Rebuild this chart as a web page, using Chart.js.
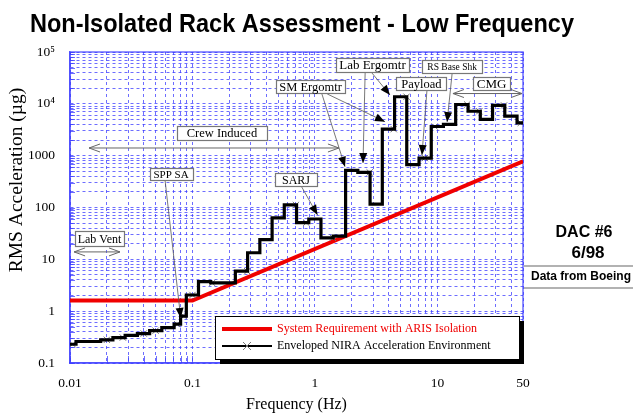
<!DOCTYPE html>
<html>
<head>
<meta charset="utf-8">
<title>Non-Isolated Rack Assessment - Low Frequency</title>
<script src="https://cdn.jsdelivr.net/npm/chart.js@4.4.0/dist/chart.umd.min.js"></script>
<style>
  html, body { margin: 0; padding: 0; background: #fff; }
  #wrap { width: 633px; height: 414px; }
</style>
</head>
<body>
<div id="wrap"><canvas id="rack" width="633" height="414"></canvas></div>
<script>
// 1/3-octave band lower edges (Hz) and enveloped NIRA levels (micro-g)
const bandHz = [0.01, 0.0112, 0.0141, 0.0178, 0.0224, 0.0282, 0.0355, 0.0447, 0.0562, 0.0708,
  0.08, 0.0891, 0.112, 0.141, 0.178, 0.224, 0.282, 0.355, 0.447, 0.562,
  0.708, 0.891, 1.12, 1.41, 1.78, 2.24, 2.82, 3.55, 4.47, 5.62,
  7.08, 8.91, 11.2, 14.1, 17.8, 22.4, 28.2, 35.5, 44.7];
const niraUg = [0.23, 0.26, 0.26, 0.28, 0.31, 0.34, 0.37, 0.42, 0.48, 0.56,
  0.8, 2.05, 3.7, 3.5, 3.5, 5.9, 13.4, 24, 63, 112,
  51, 60, 26, 28, 520, 475, 116, 3250, 13700, 670,
  900, 3650, 4000, 9700, 7200, 5000, 9300, 5800, 4300];
const bandEndHz = 50;

// x markers sitting on the envelope
const markHz = [0.0105, 0.02, 0.027, 0.04, 0.05, 0.075, 0.085, 0.1, 0.145, 0.28, 0.7, 0.85,
  1.4, 2.8, 4.4, 5.6, 7.9, 9.5, 17.5, 22, 35, 48];

// ARIS isolated requirement
const reqHz = [0.01, 0.1, 50];
const reqUg = [1.6, 1.6, 780];

const xTickHz = [0.01, 0.1, 1, 10, 50];
const xTickText = ['0.01', '0.1', '1', '10', '50'];
const yTickUg = [0.1, 1, 10, 100, 1000, 10000, 100000];
const yTickText = ['0.1', '1', '10', '100', '1000', '10\u2074', '10\u2075'];

const SERIF = "'Liberation Serif', 'Times New Roman', Times, serif";
const SANS = "'Liberation Sans', Arial, Helvetica, sans-serif";
const GRID = 'rgba(60,60,255,0.75)';

// callouts, placed in Hz / micro-g
const notes = [
  { text: 'Lab Vent', hz: 0.0174, ug: 25, w: 49, h: 15, size: 12 },
  { text: 'Crew Induced', hz: 0.174, ug: 2740, w: 90, h: 14, size: 12.5 },
  { text: 'SPP SA', hz: 0.0668, ug: 444, w: 43, h: 12, size: 11 },
  { text: 'SARJ', hz: 0.70, ug: 340, w: 42, h: 13, size: 12 },
  { text: 'SM Ergomtr', hz: 0.92, ug: 21600, w: 69, h: 13, size: 12.5 },
  { text: 'Lab Ergomtr', hz: 2.95, ug: 56200, w: 73, h: 14, size: 13 },
  { text: 'Payload', hz: 7.41, ug: 24700, w: 50, h: 13, size: 12.5 },
  { text: 'RS Base Shk', hz: 13.2, ug: 52600, w: 60, h: 13, size: 9.5 },
  { text: 'CMG', hz: 27.7, ug: 24700, w: 37, h: 13, size: 13 }
];
const pointers = [
  [0.0597, 340, 0.0802, 0.74],
  [0.78, 249, 1.05, 72],
  [1.14, 15500, 1.76, 613],
  [1.26, 15500, 3.73, 4530],
  [2.57, 39400, 2.47, 722],
  [2.92, 39400, 4.10, 14800],
  [8.22, 18500, 7.48, 1030],
  [13.2, 39400, 12.0, 4460]
];
const spans = [
  [0.0108, 0.0256, 13.9],
  [0.0143, 1.57, 1406],
  [13.4, 49.1, 15800]
];

function levelAt(f) {
  let i = bandHz.length - 1;
  while (i > 0 && bandHz[i] > f) i--;
  return niraUg[i];
}

function logTicks(min, max) {
  const out = [];
  for (let e = Math.floor(Math.log10(min)); e <= Math.ceil(Math.log10(max)); e++) {
    for (let m = 1; m < 10; m++) {
      const v = Number((m * Math.pow(10, e)).toPrecision(6));
      if (v >= min && v <= max) out.push(v);
    }
  }
  if (out[out.length - 1] !== max) out.push(max);
  return out;
}

function labelFor(vals, texts, v) {
  const i = vals.findIndex(t => Math.abs(Math.log10(t) - Math.log10(v)) < 1e-6);
  return i < 0 ? '' : texts[i];
}

const niraPts = bandHz.map((f, i) => ({ x: f, y: niraUg[i] }));
niraPts.push({ x: bandEndHz, y: niraUg[niraUg.length - 1] });
const markPts = markHz.map(f => ({ x: f, y: levelAt(f) }));
const reqPts = reqHz.map((f, i) => ({ x: f, y: reqUg[i] }));

function arrowHead(ctx, x0, y0, x1, y1, len, half) {
  const a = Math.atan2(y1 - y0, x1 - x0);
  ctx.beginPath();
  ctx.moveTo(x1, y1);
  ctx.lineTo(x1 - len * Math.cos(a) + half * Math.sin(a), y1 - len * Math.sin(a) - half * Math.cos(a));
  ctx.lineTo(x1 - len * Math.cos(a) - half * Math.sin(a), y1 - len * Math.sin(a) + half * Math.cos(a));
  ctx.closePath();
  ctx.fill();
}

const decor = {
  id: 'decor',
  beforeDatasetsDraw(chart) {
    const { ctx, chartArea: a, scales: { x, y } } = chart;
    ctx.save();
    ctx.strokeStyle = GRID;
    ctx.lineWidth = 1;
    ctx.beginPath();
    y.ticks.forEach(t => {
      const py = Math.round(y.getPixelForValue(t.value)) + 0.5;
      ctx.moveTo(a.left, py); ctx.lineTo(a.left + 5, py);
    });
    x.ticks.forEach(t => {
      const qx = Math.round(x.getPixelForValue(t.value)) + 0.5;
      ctx.moveTo(qx, a.bottom); ctx.lineTo(qx, a.bottom - 7);
    });
    ctx.stroke();
    ctx.lineWidth = 1.5;
    ctx.strokeRect(a.left, a.top, a.right - a.left, a.bottom - a.top);
    ctx.restore();
  },
  afterDraw(chart) {
    const { ctx, chartArea: a, scales: { x, y } } = chart;
    const P = (hz, ug) => [x.getPixelForValue(hz), y.getPixelForValue(ug)];
    ctx.save();

    // pointer lines with solid heads
    pointers.forEach(([f0, v0, f1, v1]) => {
      const [x0, y0] = P(f0, v0), [x1, y1] = P(f1, v1);
      ctx.strokeStyle = '#555';
      ctx.lineWidth = 0.8;
      ctx.beginPath(); ctx.moveTo(x0, y0); ctx.lineTo(x1, y1); ctx.stroke();
      ctx.fillStyle = '#000';
      arrowHead(ctx, x0, y0, x1, y1, 10, 4);
    });

    // range arrows
    spans.forEach(([f0, f1, v]) => {
      const [x0, yy] = P(f0, v), [x1] = P(f1, v);
      ctx.strokeStyle = '#666';
      ctx.lineWidth = 1;
      ctx.beginPath();
      ctx.moveTo(x0, yy); ctx.lineTo(x1, yy);
      ctx.moveTo(x0 + 11, yy - 4); ctx.lineTo(x0, yy); ctx.lineTo(x0 + 11, yy + 4);
      ctx.moveTo(x1 - 11, yy - 4); ctx.lineTo(x1, yy); ctx.lineTo(x1 - 11, yy + 4);
      ctx.stroke();
    });

    // callout boxes
    notes.forEach(n => {
      const [cx, cy] = P(n.hz, n.ug);
      const l = Math.round(cx - n.w / 2) + 0.5, t = Math.round(cy - n.h / 2) + 0.5;
      ctx.fillStyle = '#fff';
      ctx.fillRect(l, t, n.w, n.h);
      ctx.strokeStyle = '#777';
      ctx.lineWidth = 1.2;
      ctx.strokeRect(l, t, n.w, n.h);
      ctx.fillStyle = '#000';
      ctx.font = n.size + 'px ' + SERIF;
      ctx.textAlign = 'center';
      ctx.textBaseline = 'middle';
      ctx.fillText(n.text, cx, cy + 1);
    });

    // legend panel with drop shadow
    const req = chart.data.datasets[2], env = chart.data.datasets[0];
    const bx = 215, by = 316, bw = 304, bh = 43;
    ctx.fillStyle = '#000';
    ctx.fillRect(bx + 5, by + 5, bw, bh);
    ctx.fillStyle = '#fff';
    ctx.fillRect(bx, by, bw, bh);
    ctx.strokeStyle = '#000';
    ctx.lineWidth = 1;
    ctx.strokeRect(bx + 0.5, by + 0.5, bw, bh);
    ctx.lineCap = 'butt';
    ctx.strokeStyle = req.borderColor;
    ctx.lineWidth = req.borderWidth;
    ctx.beginPath(); ctx.moveTo(222, 329); ctx.lineTo(272, 329); ctx.stroke();
    ctx.strokeStyle = env.borderColor;
    ctx.lineWidth = 2;
    ctx.beginPath(); ctx.moveTo(222, 346); ctx.lineTo(272, 346); ctx.stroke();
    ctx.strokeStyle = '#777';
    ctx.lineWidth = 1;
    ctx.beginPath();
    ctx.moveTo(243, 342); ctx.lineTo(251, 350);
    ctx.moveTo(251, 342); ctx.lineTo(243, 350);
    ctx.stroke();
    ctx.font = '12px ' + SERIF;
    ctx.textAlign = 'left';
    ctx.textBaseline = 'middle';
    ctx.fillStyle = req.borderColor;
    ctx.fillText(req.label, 277, 329);
    ctx.fillStyle = '#000';
    ctx.fillText(env.label, 277, 346);

    // heading
    ctx.font = 'bold 25px ' + SANS;
    ctx.textAlign = 'center';
    ctx.textBaseline = 'alphabetic';
    ctx.fillText('Non-Isolated Rack Assessment - Low Frequency', 302, 31.5, 544);

    // axis titles
    ctx.font = '16px ' + SERIF;
    ctx.textBaseline = 'middle';
    ctx.fillText('Frequency (Hz)', (a.left + a.right) / 2, 405);
    ctx.save();
    ctx.translate(17, 180);
    ctx.rotate(-Math.PI / 2);
    ctx.font = '19.5px ' + SERIF;
    ctx.fillText('RMS Acceleration (\u00b5g)', 0, 0);
    ctx.restore();

    // side note
    ctx.font = 'bold 16px ' + SANS;
    ctx.fillText('DAC #6', 584, 233);
    ctx.font = 'bold 17px ' + SANS;
    ctx.fillText('6/98', 588, 253);
    ctx.font = 'bold 12px ' + SANS;
    ctx.fillText('Data from Boeing', 581, 277);
    ctx.strokeStyle = '#999';
    ctx.lineWidth = 1.5;
    ctx.beginPath();
    ctx.moveTo(524, 266); ctx.lineTo(633, 266);
    ctx.moveTo(524, 288); ctx.lineTo(633, 288);
    ctx.stroke();
    ctx.restore();
  }
};

Chart.defaults.font.family = SERIF;
Chart.defaults.color = '#000';

new Chart(document.getElementById('rack'), {
  type: 'line',
  data: {
    datasets: [
      {
        label: 'Enveloped NIRA Acceleration Environment',
        data: niraPts,
        borderColor: '#000',
        borderWidth: 3.2,
        stepped: true,
        pointRadius: 0,
        fill: false
      },
      {
        label: 'markers',
        data: markPts,
        showLine: false,
        pointStyle: 'crossRot',
        pointRadius: 4.5,
        pointBorderColor: '#777',
        pointBorderWidth: 1,
        borderColor: '#777'
      },
      {
        label: 'System Requirement with ARIS Isolation',
        data: reqPts,
        borderColor: '#f00000',
        borderWidth: 4,
        pointRadius: 0,
        tension: 0,
        fill: false
      }
    ]
  },
  options: {
    responsive: false,
    animation: false,
    events: [],
    layout: { padding: { left: 0, top: 52, right: 110, bottom: 0 } },
    plugins: { legend: { display: false }, tooltip: { enabled: false }, title: { display: false } },
    scales: {
      x: {
        type: 'logarithmic',
        min: 0.01,
        max: 50,
        afterFit: s => { s.height = 51; },
        afterBuildTicks: s => { s.ticks = logTicks(0.01, 50).map(v => ({ value: v })); },
        grid: { color: GRID, lineWidth: 1, drawTicks: false },
        border: { display: true, color: GRID, width: 1.5, dash: [3, 3] },
        ticks: {
          autoSkip: false, maxRotation: 0, padding: 12,
          font: { size: 13.5 },
          callback: v => labelFor(xTickHz, xTickText, v)
        }
      },
      y: {
        type: 'logarithmic',
        min: 0.1,
        max: 100000,
        afterFit: s => { s.width = 70; },
        afterBuildTicks: s => { s.ticks = logTicks(0.1, 100000).map(v => ({ value: v })); },
        grid: { color: GRID, lineWidth: 1, drawTicks: false },
        border: { display: true, color: GRID, width: 1.5, dash: [3, 3] },
        ticks: {
          autoSkip: false, padding: 15,
          font: { size: 13.5 },
          callback: v => labelFor(yTickUg, yTickText, v)
        }
      }
    }
  },
  plugins: [decor]
});
</script>
</body>
</html>
